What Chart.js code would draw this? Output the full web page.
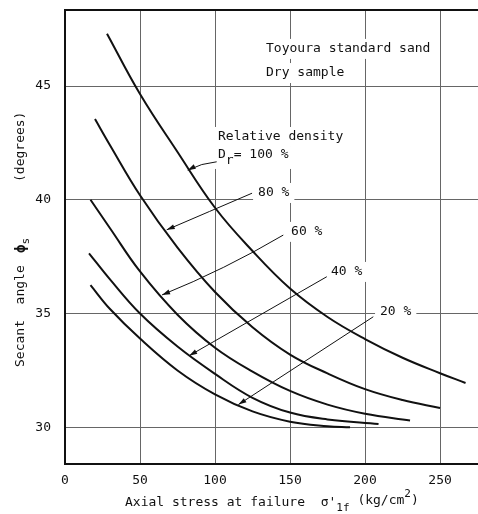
<!DOCTYPE html>
<html>
<head>
<meta charset="utf-8">
<script src="https://cdn.jsdelivr.net/npm/chart.js@4.4.0/dist/chart.umd.min.js"></script>
<style>
  html, body { margin: 0; padding: 0; background: #fff; }
  #wrap { width: 478px; height: 514px; }
</style>
</head>
<body>
<div id="wrap"><canvas id="myChart" width="478" height="514"></canvas></div>
<script>
// values: axial stress (kg/cm2) vs secant angle (deg)
const xTicks = [0, 50, 100, 150, 200, 250];
const yTicks = [30, 35, 40, 45];

const dr100X = [28, 50, 75, 100, 125, 150, 175, 200, 225, 250, 267];
const dr100Y = [47.3, 44.65, 42.1, 39.65, 37.75, 36.1, 34.85, 33.88, 33.06, 32.38, 31.95];

const dr80X = [20, 30, 50, 75, 100, 125, 150, 175, 200, 225, 250];
const dr80Y = [43.55, 42.4, 40.2, 37.9, 35.95, 34.4, 33.2, 32.37, 31.68, 31.2, 30.85];

const dr60X = [17, 30, 50, 75, 100, 125, 150, 175, 200, 230];
const dr60Y = [40.0, 38.75, 36.85, 34.95, 33.5, 32.45, 31.6, 31.0, 30.6, 30.3];

const dr40X = [16, 30, 50, 75, 100, 125, 150, 175, 209];
const dr40Y = [37.65, 36.5, 35.0, 33.55, 32.35, 31.3, 30.65, 30.35, 30.15];

const dr20X = [17, 30, 50, 75, 100, 125, 150, 175, 190];
const dr20Y = [36.25, 35.2, 33.9, 32.5, 31.45, 30.7, 30.25, 30.05, 30.0];

const densityLabels = ['100 %', '80 %', '60 %', '40 %', '20 %'];

const FONT = '"DejaVu Sans Mono", "Liberation Mono", monospace';
const INK = '#111';

const toPts = (xs, ys) => xs.map((x, i) => ({x: x, y: ys[i]}));
const curve = (label, xs, ys) => ({
  label: label,
  data: toPts(xs, ys),
  borderColor: INK,
  borderWidth: 2,
  pointRadius: 0,
  fill: false,
  tension: 0.4
});

// annotation placement, in data units
const textNotes = [
  {text: 'Toyoura standard sand', x: 134, y: 46.63},
  {text: 'Dry sample', x: 134, y: 45.57},
  {text: 'Relative density', x: 102, y: 42.76},
  {text: densityLabels[1], x: 128.7, y: 40.3},
  {text: densityLabels[2], x: 150.7, y: 38.59},
  {text: densityLabels[3], x: 177.3, y: 36.83},
  {text: densityLabels[4], x: 210, y: 35.07}
];
const drNote = {x: 102, y: 41.97};
const leaders = [
  {from: [101.1, 41.67], to: [81.8, 41.3], bend: 3},
  {from: [124.7, 40.29], to: [67.8, 38.68], bend: 0},
  {from: [145.5, 38.45], to: [64.7, 35.82], bend: -5},
  {from: [174.5, 36.62], to: [82.8, 33.15], bend: 0},
  {from: [205.5, 34.86], to: [115.6, 31.0], bend: 0}
];

function arrowLine(ctx, x1, y1, x2, y2, bend) {
  const mx = (x1 + x2) / 2, my = (y1 + y2) / 2;
  const len = Math.hypot(x2 - x1, y2 - y1);
  const cx = mx + bend * (y2 - y1) / len * -1;
  const cy = my + bend * (x2 - x1) / len;
  const a = Math.atan2(y2 - cy, x2 - cx);
  ctx.beginPath();
  ctx.moveTo(x1, y1);
  ctx.quadraticCurveTo(cx, cy, x2, y2);
  ctx.stroke();
  ctx.beginPath();
  ctx.moveTo(x2, y2);
  ctx.lineTo(x2 - 8 * Math.cos(a) + 2.5 * Math.sin(a), y2 - 8 * Math.sin(a) - 2.5 * Math.cos(a));
  ctx.lineTo(x2 - 8 * Math.cos(a) - 2.5 * Math.sin(a), y2 - 8 * Math.sin(a) + 2.5 * Math.cos(a));
  ctx.closePath();
  ctx.fill();
}

const paperNotes = {
  id: 'paperNotes',
  beforeDatasetsDraw(chart) {
    const {ctx, scales: {x, y}} = chart;
    ctx.save();
    ctx.font = '13px ' + FONT;
    ctx.fillStyle = '#fff';
    textNotes.forEach(n => {
      const w = ctx.measureText(n.text).width;
      ctx.fillRect(x.getPixelForValue(n.x) - 5, y.getPixelForValue(n.y) - 10, w + 10, 20);
    });
    ctx.fillRect(x.getPixelForValue(drNote.x) - 5, y.getPixelForValue(drNote.y) - 8, 80, 22);
    ctx.restore();
  },
  afterDatasetsDraw(chart) {
    const {ctx, scales: {x, y}} = chart;
    ctx.save();
    ctx.font = '13px ' + FONT;
    ctx.fillStyle = INK;
    ctx.textBaseline = 'middle';
    textNotes.forEach(n => ctx.fillText(n.text, x.getPixelForValue(n.x), y.getPixelForValue(n.y)));

    // D_r = 100 %
    let px = x.getPixelForValue(drNote.x);
    const py = y.getPixelForValue(drNote.y);
    ctx.fillText('D', px, py);
    px += ctx.measureText('D').width;
    ctx.fillText('r', px, py + 6);
    px += ctx.measureText('r').width;
    ctx.fillText('= ' + densityLabels[0], px, py);

    ctx.strokeStyle = INK;
    ctx.lineWidth = 1;
    leaders.forEach(l => arrowLine(ctx,
      x.getPixelForValue(l.from[0]), y.getPixelForValue(l.from[1]),
      x.getPixelForValue(l.to[0]), y.getPixelForValue(l.to[1]), l.bend));
    ctx.restore();
  },
  afterDraw(chart) {
    const {ctx, chartArea: ca} = chart;
    ctx.save();
    // top frame line
    ctx.strokeStyle = INK;
    ctx.lineWidth = 2;
    ctx.beginPath();
    ctx.moveTo(ca.left, ca.top);
    ctx.lineTo(ca.right, ca.top);
    ctx.stroke();

    ctx.fillStyle = INK;
    ctx.font = '13px ' + FONT;
    ctx.textBaseline = 'middle';

    // x title with sub/superscripts
    let tx = 125;
    const ty = 503;
    const parts = [
      ['Axial stress at failure  \u03C3\'', 0],
      ['1f', 5],
      [' (kg/cm', -2],
      ['2', -9],
      [')', -2]
    ];
    parts.forEach(([s, dy]) => {
      ctx.font = (Math.abs(dy) > 4 ? '11px ' : '13px ') + FONT;
      ctx.fillText(s, tx, ty + dy);
      tx += ctx.measureText(s).width;
    });

    // y title, rotated
    ctx.translate(21, 367);
    ctx.rotate(-Math.PI / 2);
    ctx.font = '13px ' + FONT;
    ctx.fillText('Secant  angle', 0, 0);
    ctx.font = 'bold 14px ' + FONT;
    ctx.fillText('\u03D5', 114, 0);
    const pw = ctx.measureText('\u03D5').width;
    ctx.font = '11px ' + FONT;
    ctx.fillText('s', 114 + pw, 5);
    ctx.font = '13px ' + FONT;
    ctx.fillText('(degrees)', 185, 0);
    ctx.restore();
  }
};

const config = {
  type: 'line',
  data: {
    datasets: [
      curve(densityLabels[0], dr100X, dr100Y),
      curve(densityLabels[1], dr80X, dr80Y),
      curve(densityLabels[2], dr60X, dr60Y),
      curve(densityLabels[3], dr40X, dr40Y),
      curve(densityLabels[4], dr20X, dr20Y)
    ]
  },
  options: {
    responsive: false,
    animation: false,
    devicePixelRatio: 1,
    layout: {padding: {top: 10, right: 0, bottom: 0, left: 0}},
    plugins: {legend: {display: false}, tooltip: {enabled: false}},
    scales: {
      x: {
        type: 'linear',
        min: 0,
        max: 275.3,
        afterBuildTicks: s => { s.ticks = xTicks.map(v => ({value: v})); },
        afterFit: s => { s.height = 50; s.paddingLeft = 0; s.paddingRight = 0; },
        grid: {color: '#666', lineWidth: 1, drawTicks: false},
        border: {color: INK, width: 2},
        ticks: {color: INK, padding: 9, font: {family: FONT, size: 13}}
      },
      y: {
        min: 28.39,
        max: 48.34,
        afterBuildTicks: s => { s.ticks = yTicks.map(v => ({value: v})); },
        afterFit: s => { s.width = 65; s.paddingTop = 0; s.paddingBottom = 0; },
        grid: {color: '#666', lineWidth: 1, drawTicks: false},
        border: {color: INK, width: 2},
        ticks: {color: INK, padding: 14, font: {family: FONT, size: 13}}
      }
    }
  },
  plugins: [paperNotes]
};

const myChart = new Chart(document.getElementById('myChart').getContext('2d'), config);
</script>
</body>
</html>
